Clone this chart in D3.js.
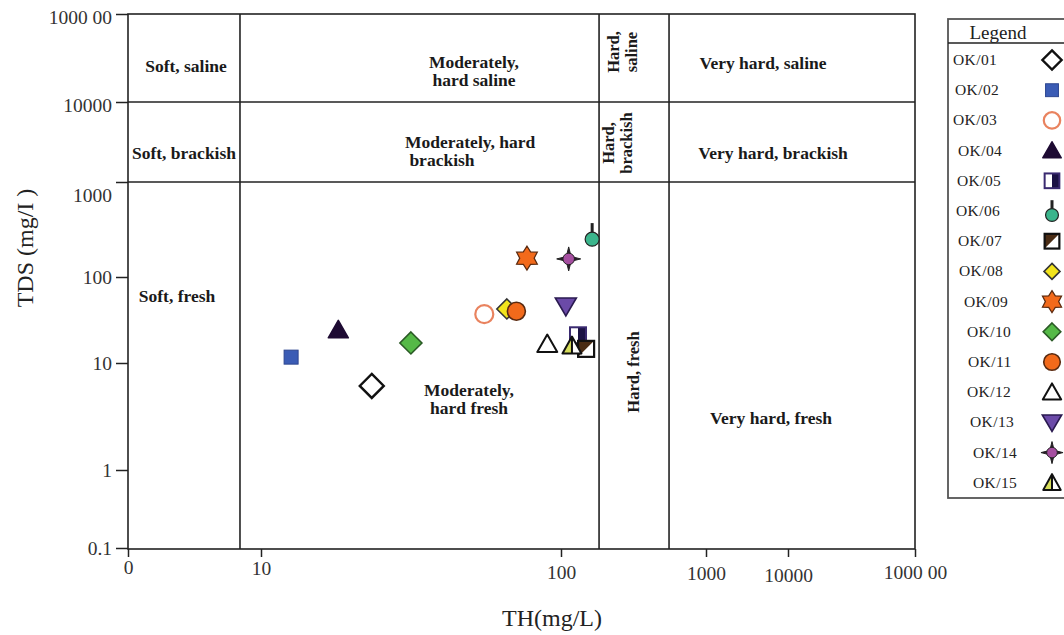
<!DOCTYPE html>
<html lang="en">
<head>
    <meta charset="UTF-8">
    <title>TDS vs TH classification</title>
    <script src="https://cdnjs.cloudflare.com/ajax/libs/d3/7.8.5/d3.min.js"></script>
    <style>
        body { margin: 0; background: #fff; }
        text { font-family: "Liberation Serif", "DejaVu Serif", serif; }
    </style>
</head>
<body>
    <div id="wrapper"></div>
    <script>
        // data
        const sampleIds = ['OK/01', 'OK/02', 'OK/03', 'OK/04', 'OK/05', 'OK/06', 'OK/07', 'OK/08',
                           'OK/09', 'OK/10', 'OK/11', 'OK/12', 'OK/13', 'OK/14', 'OK/15']
        const thValues  = [23.4, 12.6, 55.5, 18.1, 131, 164, 149, 66, 77, 31.6, 71, 90, 108, 113, 119]
        const tdsValues = [6.1, 11.7, 37, 24.2, 21, 250, 14.6, 42.5, 158, 17.1, 40, 16.6, 46, 155, 15.8]

        const xTickValues = [1, 10, 100, 1000, 10000, 100000]
        const xTickLabels = ['0', '10', '100', '1000', '10000', '1000 00']
        const yTickValues = [0.1, 1, 10, 100, 1000, 10000, 100000]
        const yTickLabels = ['0.1', '1', '10', '100', '1000', '10000', '1000 00']

        // class boundaries as drawn on the original chart
        const thBoundaries = [6.95, 183, 556]
        const tdsBoundaries = [1000, 10000]

        // marker look per sample (same order as sampleIds)
        const markerStyles = [
            { shape: 'diamond', fill: '#fff', stroke: '#111', size: 12 },
            { shape: 'square', fill: '#3b5cb5', stroke: '#2d4690', size: 14 },
            { shape: 'ring', fill: '#fff', stroke: '#e9835f', size: 10 },
            { shape: 'triangle', fill: '#1e0b33', stroke: '#1e0b33', size: 20 },
            { shape: 'halfSquare', fill: '#1b1244', stroke: '#3a2a70', size: 16 },
            { shape: 'pin', fill: '#3bb58c', stroke: '#222', size: 7 },
            { shape: 'diagSquare', fill: '#4a2c14', stroke: '#111', size: 16 },
            { shape: 'diamond', fill: '#f2e41c', stroke: '#333', size: 10 },
            { shape: 'star6', fill: '#f26a1b', stroke: '#5a2a10', size: 12 },
            { shape: 'diamond', fill: '#55b947', stroke: '#2a5a25', size: 11 },
            { shape: 'circle', fill: '#f26a1b', stroke: '#5a2a10', size: 9 },
            { shape: 'triangle', fill: '#fff', stroke: '#111', size: 20 },
            { shape: 'invTriangle', fill: '#6b4aa8', stroke: '#2a1a50', size: 21 },
            { shape: 'star4', fill: '#a54ea0', stroke: '#222', size: 12 },
            { shape: 'halfTriangle', fill: '#d6dd5a', stroke: '#111', size: 19 },
        ]

        const dimensions = {
            width: 1064,
            height: 635,
            left: 128, right: 915, top: 14, bottom: 549,
        }

        const svg = d3.select('#wrapper')
            .append('svg')
                .attr('width', dimensions.width)
                .attr('height', dimensions.height)

        // the printed axes are uneven, so the log scales are piecewise
        const xScale = d3.scaleLog()
            .domain(xTickValues)
            .range([128, 261, 561, 706, 788, 915])
        const yScale = d3.scaleLog()
            .domain(yTickValues)
            .range([548, 470, 363, 277, 182, 102, 14])

        const lineColor = '#222'

        // axes
        const xLabelOffsets = [25, 26, 30, 31, 33, 30]
        const xAxis = svg.append('g')
            .attr('transform', `translate(0, ${dimensions.bottom})`)
            .call(d3.axisBottom(xScale)
                .tickValues(xTickValues)
                .tickFormat((d, i) => xTickLabels[i])
                .tickSizeInner(8).tickSizeOuter(0))
        xAxis.select('.domain').remove()
        xAxis.selectAll('line').attr('stroke', lineColor).attr('stroke-width', 1.5)
        xAxis.selectAll('text')
            .attr('fill', '#333').style('font-size', '19.5px')
            .attr('y', (d, i) => xLabelOffsets[i])
            .attr('dy', 0)

        const yAxis = svg.append('g')
            .attr('transform', `translate(${dimensions.left}, 0)`)
            .call(d3.axisLeft(yScale)
                .tickValues(yTickValues)
                .tickFormat((d, i) => yTickLabels[i])
                .tickSizeInner(12).tickSizeOuter(0).tickPadding(4))
        yAxis.select('.domain').remove()
        yAxis.selectAll('line').attr('stroke', lineColor).attr('stroke-width', 1.5)
        yAxis.selectAll('text')
            .attr('fill', '#333').style('font-size', '19.5px')
            .attr('dy', d => d == 1000 ? '1.0em' : (d >= 10000 ? '0.5em' : '0.35em'))

        // frame and class boundaries
        const grid = svg.append('g')
            .attr('stroke', lineColor)
            .attr('stroke-width', 1.6)
            .attr('fill', 'none')
        grid.append('rect')
            .attr('x', dimensions.left)
            .attr('y', dimensions.top)
            .attr('width', dimensions.right - dimensions.left)
            .attr('height', dimensions.bottom - dimensions.top)
        grid.selectAll('.vb')
            .data(thBoundaries)
            .join('line')
                .attr('x1', d => xScale(d)).attr('x2', d => xScale(d))
                .attr('y1', dimensions.top).attr('y2', dimensions.bottom)
        grid.selectAll('.hb')
            .data(tdsBoundaries)
            .join('line')
                .attr('x1', dimensions.left).attr('x2', dimensions.right)
                .attr('y1', d => yScale(d)).attr('y2', d => yScale(d))

        // region names (layout in pixels, y = centre of first line)
        const regionLabels = [
            { lines: ['Soft, saline'], x: 186, y: 66 },
            { lines: ['Moderately,', 'hard saline'], x: 474, y: 62 },
            { lines: ['Very hard, saline'], x: 763, y: 63 },
            { lines: ['Soft, brackish'], x: 184, y: 153 },
            { lines: ['Moderately, hard', ' brackish'], x: 405, y: 142, anchor: 'start' },
            { lines: ['Very hard, brackish'], x: 773, y: 153 },
            { lines: ['Soft, fresh'], x: 177, y: 296 },
            { lines: ['Moderately,', 'hard fresh'], x: 469, y: 390 },
            { lines: ['Very hard, fresh'], x: 771, y: 418 },
            { lines: ['Hard,', 'saline'], x: 613, y: 52, rotate: true },
            { lines: ['Hard,', 'brackish'], x: 608, y: 143, rotate: true },
            { lines: ['Hard, fresh'], x: 633, y: 372, rotate: true },
        ]
        regionLabels.forEach(l => {
            const t = svg.append('text')
                .attr('transform', `translate(${l.x}, ${l.y})` + (l.rotate ? ' rotate(-90)' : ''))
                .attr('text-anchor', l.anchor || 'middle')
                .attr('fill', '#1a1a1a')
                .style('font-size', l.rotate ? '16.5px' : '17.5px')
                .style('font-weight', 'bold')
            l.lines.forEach((s, i) => {
                t.append('tspan')
                    .attr('x', 0)
                    .attr('y', i * 18 + 6)
                    .style('white-space', 'pre')
                    .text(s)
            })
        })

        // axis titles
        svg.append('text')
            .attr('x', 552).attr('y', 626)
            .attr('text-anchor', 'middle')
            .attr('fill', '#222')
            .style('font-size', '24px')
            .text('TH(mg/L)')
        svg.append('text')
            .attr('transform', 'translate(33, 248) rotate(-90)')
            .attr('text-anchor', 'middle')
            .attr('fill', '#222')
            .style('font-size', '24px')
            .text('TDS (mg/I )')

        // marker drawing
        function polygon(points) {
            return 'M' + points.map(p => p.join(',')).join('L') + 'Z'
        }
        function starPoints(n, outer, inner) {
            const pts = []
            for (let i = 0; i < n * 2; i++) {
                const r = i % 2 == 0 ? outer : inner
                const a = Math.PI * i / n - Math.PI / 2
                pts.push([r * Math.cos(a), r * Math.sin(a)])
            }
            return pts
        }
        function drawMarker(g, st, k = 1) {
            const s = st.size * k
            const sw = 1.6
            if (st.shape == 'diamond') {
                g.append('path').attr('d', polygon([[0, -s], [s, 0], [0, s], [-s, 0]]))
                    .attr('fill', st.fill).attr('stroke', st.stroke).attr('stroke-width', st.fill == '#fff' ? 2.4 : sw)
            } else if (st.shape == 'square') {
                g.append('rect').attr('x', -s / 2).attr('y', -s / 2).attr('width', s).attr('height', s)
                    .attr('fill', st.fill).attr('stroke', st.stroke).attr('stroke-width', 1)
            } else if (st.shape == 'ring') {
                g.append('circle').attr('r', s - 1)
                    .attr('fill', st.fill).attr('stroke', st.stroke).attr('stroke-width', 2.2)
            } else if (st.shape == 'circle') {
                g.append('circle').attr('r', s)
                    .attr('fill', st.fill).attr('stroke', st.stroke).attr('stroke-width', sw)
            } else if (st.shape == 'triangle') {
                const h = s * 0.87
                g.append('path').attr('d', polygon([[0, -h * 0.55], [s / 2, h * 0.45], [-s / 2, h * 0.45]]))
                    .attr('fill', st.fill).attr('stroke', st.stroke).attr('stroke-width', st.fill == '#fff' ? 2 : sw)
                    .attr('stroke-linejoin', 'round')
            } else if (st.shape == 'invTriangle') {
                const h = s * 0.85
                g.append('path').attr('d', polygon([[-s / 2, -h * 0.45], [s / 2, -h * 0.45], [0, h * 0.55]]))
                    .attr('fill', st.fill).attr('stroke', st.stroke).attr('stroke-width', sw)
            } else if (st.shape == 'halfTriangle') {
                const h = s * 0.9
                const top = -h * 0.55, base = h * 0.45
                g.append('path').attr('d', polygon([[0, top], [s / 2, base], [-s / 2, base]]))
                    .attr('fill', '#fff')
                g.append('path').attr('d', polygon([[0, top], [0, base], [-s / 2, base]]))
                    .attr('fill', st.fill)
                g.append('path').attr('d', polygon([[0, top], [s / 2, base], [-s / 2, base]]) + `M0,${top}L0,${base}`)
                    .attr('fill', 'none').attr('stroke', st.stroke).attr('stroke-width', 2).attr('stroke-linejoin', 'round')
            } else if (st.shape == 'halfSquare') {
                g.append('rect').attr('x', -s / 2).attr('y', -s / 2).attr('width', s).attr('height', s).attr('fill', '#fff')
                g.append('rect').attr('x', 0).attr('y', -s / 2).attr('width', s / 2).attr('height', s).attr('fill', st.fill)
                g.append('rect').attr('x', -s / 2).attr('y', -s / 2).attr('width', s).attr('height', s)
                    .attr('fill', 'none').attr('stroke', st.stroke).attr('stroke-width', 2)
            } else if (st.shape == 'diagSquare') {
                g.append('rect').attr('x', -s / 2).attr('y', -s / 2).attr('width', s).attr('height', s).attr('fill', '#fff')
                g.append('path').attr('d', polygon([[-s / 2, -s / 2], [s / 2, -s / 2], [-s / 2, s / 2]])).attr('fill', st.fill)
                g.append('rect').attr('x', -s / 2).attr('y', -s / 2).attr('width', s).attr('height', s)
                    .attr('fill', 'none').attr('stroke', st.stroke).attr('stroke-width', 2.2)
            } else if (st.shape == 'pin') {
                g.append('line').attr('x1', 0).attr('x2', 0).attr('y1', 0).attr('y2', -s * 2.3)
                    .attr('stroke', st.stroke).attr('stroke-width', 3)
                g.append('circle').attr('r', s)
                    .attr('fill', st.fill).attr('stroke', st.stroke).attr('stroke-width', 1.2)
            } else if (st.shape == 'star6') {
                g.append('path').attr('d', polygon(starPoints(6, s, s * 0.6)))
                    .attr('fill', st.fill).attr('stroke', st.stroke).attr('stroke-width', 1.2)
            } else if (st.shape == 'star4') {
                g.append('path').attr('d', polygon(starPoints(4, s, s * 0.28)))
                    .attr('fill', '#2a1a2a').attr('stroke', st.stroke).attr('stroke-width', 1)
                g.append('circle').attr('r', s * 0.48)
                    .attr('fill', st.fill).attr('stroke', st.stroke).attr('stroke-width', 1)
            }
        }

        // points
        const points = svg.append('g')
        sampleIds.forEach((id, i) => {
            const g = points.append('g')
                .attr('transform', `translate(${xScale(thValues[i])}, ${yScale(tdsValues[i])})`)
            drawMarker(g, markerStyles[i])
        })

        // legend
        const legendLabelX = [953, 955, 953, 958, 957, 956, 958, 959, 964, 967, 968, 967, 970, 973, 973]
        const legend = svg.append('g')
        legend.append('rect')
            .attr('x', 948).attr('y', 19)
            .attr('width', 140).attr('height', 479)
            .attr('fill', '#fff')
            .attr('stroke', '#555').attr('stroke-width', 1.8)
        legend.append('line')
            .attr('x1', 948).attr('x2', 1064)
            .attr('y1', 43).attr('y2', 43)
            .attr('stroke', '#222').attr('stroke-width', 1.5)
        legend.append('text')
            .attr('x', 998).attr('y', 39)
            .attr('text-anchor', 'middle')
            .attr('fill', '#222')
            .style('font-size', '19px')
            .text('Legend')
        sampleIds.forEach((id, i) => {
            const y = 60 + i * 30.2
            legend.append('text')
                .attr('x', legendLabelX[i]).attr('y', y + 5)
                .attr('fill', '#222')
                .style('font-size', '15.5px')
                .style('letter-spacing', '0.4px')
                .text(id)
            const g = legend.append('g')
                .attr('transform', `translate(1052, ${y + (markerStyles[i].shape == 'pin' ? 4 : 0)})`)
            drawMarker(g, markerStyles[i], markerStyles[i].shape == 'diamond' ? 0.8 : 0.92)
        })
    </script>
</body>
</html>
